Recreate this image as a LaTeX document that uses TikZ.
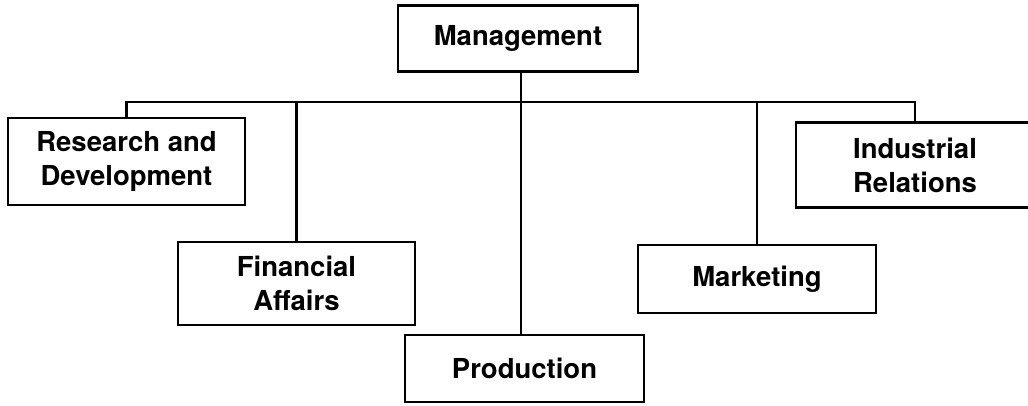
\documentclass[tikz,border=0pt]{standalone}
\usepackage{fontspec}
\setmainfont{TeX Gyre Heros}

\begin{document}
\begin{tikzpicture}[x=1pt, y=-1pt,
        unit/.style={draw, line width=2.8pt, align=center, inner sep=0pt,
            font=\fontsize{27.5}{34}\selectfont\bfseries},
        link/.style={line width=2.8pt}]
    \useasboundingbox (0,0) rectangle (1028,405);

    \node[unit, minimum width=240, minimum height=66] (mgmt) at (518,38.5) {Management};
    \node[unit, minimum width=237, minimum height=87] (rd) at (126.5,161.5) {Research and\\Development};
    \node[unit, minimum width=237, minimum height=83] (fin) at (296.5,283.5) {Financial\\Affairs};
    \node[unit, minimum width=239, minimum height=67] (prod) at (524.5,368.5) {Production};
    \node[unit, minimum width=238, minimum height=68] (mkt) at (757,279) {Marketing};
    \node[unit, minimum width=238, minimum height=85] (ind) at (915,165) {Industrial\\Relations};

    \coordinate (bus) at (521,102);

    \draw[link] (bus |- mgmt.south) -- (bus |- prod.north);
    \draw[link] (rd.north) |- (bus) -| (ind.north);
    \draw[link] (fin.north) -- (fin.north |- bus);
    \draw[link] (mkt.north) -- (mkt.north |- bus);
\end{tikzpicture}
\end{document}
